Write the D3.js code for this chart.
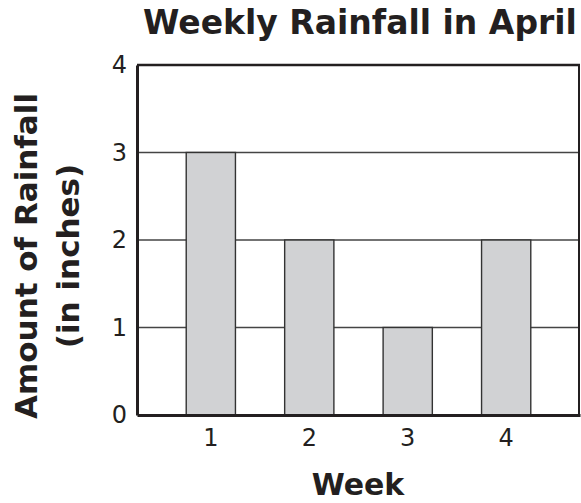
<!DOCTYPE html>
<html>
<head>
<meta charset="utf-8">
<script src="https://cdn.jsdelivr.net/npm/d3@7"></script>
<style>
  html, body { margin: 0; padding: 0; background: #fff; overflow: hidden; }
  svg { display: block; font-family: "DejaVu Sans", Verdana, sans-serif; }
</style>
</head>
<body>
<div id="chart"></div>
<script>
// data
const weeks = ['1', '2', '3', '4'];
const rainfall = [3, 2, 1, 2];
const yTicks = [0, 1, 2, 3, 4];

const width = 581, height = 503;
const margin = { top: 65, right: 1, bottom: 88, left: 137 };
const innerWidth = width - margin.left - margin.right;
const innerHeight = height - margin.top - margin.bottom;
const ink = '#231f20';

const svg = d3.select('#chart').append('svg')
  .attr('width', width)
  .attr('height', height);

const g = svg.append('g')
  .attr('transform', `translate(${margin.left},${margin.top})`);

const x = d3.scaleBand()
  .domain(weeks)
  .range([0, innerWidth])
  .paddingInner(0.5)
  .paddingOuter(0.5);

const y = d3.scaleLinear()
  .domain([0, 4])
  .range([innerHeight, 0]);

// gridlines
g.append('g')
  .selectAll('line')
  .data(yTicks.filter(d => d > 0 && d < 4))
  .enter().append('line')
  .attr('x1', 0).attr('x2', innerWidth)
  .attr('y1', d => y(d)).attr('y2', d => y(d))
  .attr('stroke', '#444')
  .attr('stroke-width', 1.4);

// bars
g.append('g')
  .selectAll('rect')
  .data(rainfall)
  .enter().append('rect')
  .attr('x', (d, i) => x(weeks[i]))
  .attr('y', d => y(d))
  .attr('width', x.bandwidth())
  .attr('height', d => innerHeight - y(d))
  .attr('fill', '#d1d2d4')
  .attr('stroke', '#333')
  .attr('stroke-width', 1.4);

// frame: top and right thinner, left and bottom heavy
g.append('line')
  .attr('x1', 0).attr('x2', innerWidth)
  .attr('y1', y(4)).attr('y2', y(4))
  .attr('stroke', ink).attr('stroke-width', 2.5);
g.append('line')
  .attr('x1', innerWidth - 1).attr('x2', innerWidth - 1)
  .attr('y1', y(4)).attr('y2', innerHeight)
  .attr('stroke', ink).attr('stroke-width', 2);

// y axis
const yAxis = d3.axisLeft(y).tickValues(yTicks).tickFormat(d3.format('d')).tickSize(0).tickPadding(10);
g.append('g')
  .call(yAxis)
  .call(s => s.select('.domain').attr('stroke', ink).attr('stroke-width', 3))
  .call(s => s.selectAll('.tick text')
    .attr('fill', ink)
    .attr('font-size', '24px')
    .attr('font-family', '"DejaVu Sans", Verdana, sans-serif'));

// x axis
const xAxis = d3.axisBottom(x).tickSize(0).tickPadding(14);
g.append('g')
  .attr('transform', `translate(0,${innerHeight})`)
  .call(xAxis)
  .call(s => s.select('.domain').attr('stroke', ink).attr('stroke-width', 3))
  .call(s => s.selectAll('.tick text')
    .attr('fill', ink)
    .attr('font-size', '24px')
    .attr('font-family', '"DejaVu Sans", Verdana, sans-serif'));

// title
svg.append('text')
  .attr('x', 360)
  .attr('y', 34)
  .attr('text-anchor', 'middle')
  .attr('font-size', '33px')
  .attr('font-weight', 'bold')
  .attr('fill', ink)
  .text('Weekly Rainfall in April');

// x title
svg.append('text')
  .attr('x', 358)
  .attr('y', 495)
  .attr('text-anchor', 'middle')
  .attr('font-size', '30px')
  .attr('font-weight', 'bold')
  .attr('fill', ink)
  .text('Week');

// y title, two lines
const yTitle = svg.append('text')
  .attr('transform', 'translate(37,256) rotate(-90)')
  .attr('text-anchor', 'middle')
  .attr('font-size', '31px')
  .attr('font-weight', 'bold')
  .attr('fill', ink);
yTitle.append('tspan').attr('x', 0).attr('y', 0).text('Amount of Rainfall');
yTitle.append('tspan').attr('x', 0).attr('y', 42).text('(in inches)');
</script>
</body>
</html>
